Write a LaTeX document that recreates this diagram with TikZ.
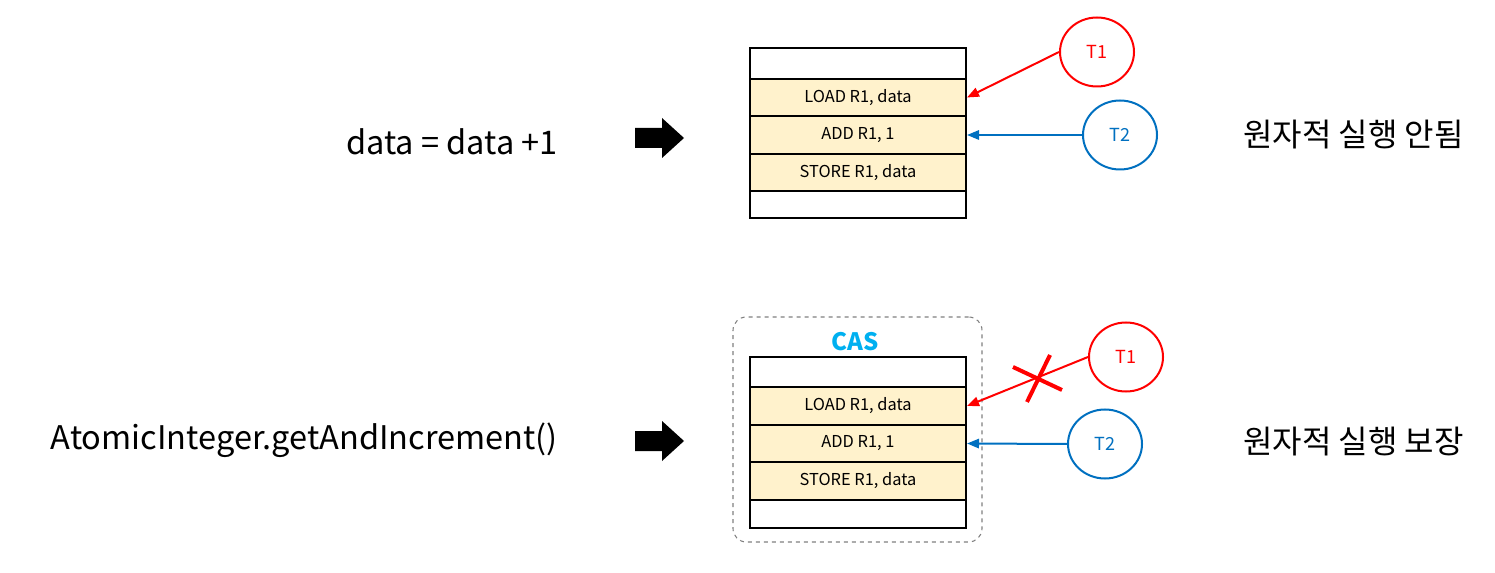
\documentclass[tikz,border=0pt]{standalone}
\usepackage{fontspec}
\setmainfont{Noto Sans CJK KR}
\usetikzlibrary{arrows.meta,shapes.geometric}
\definecolor{rowfill}{RGB}{255,242,204}
\definecolor{tred}{RGB}{255,0,0}
\definecolor{tblue}{RGB}{0,112,192}
\definecolor{casblue}{RGB}{0,176,240}
\begin{document}
\begin{tikzpicture}[x=0.75pt,y=-0.75pt,
  cell/.style={draw=black,line width=1.5pt,inner sep=0pt,minimum width=216*0.75pt,font=\fontsize{12.3}{14}\selectfont},
  instr/.style={cell,fill=rowfill},
  thread/.style={ellipse,draw,line width=1.5pt,minimum width=74*0.75pt,minimum height=69*0.75pt,inner sep=0pt,fill=white,font=\fontsize{13.5}{16}\selectfont},
  redthread/.style={thread,draw=tred,text=tred},
  bluethread/.style={thread,draw=tblue,text=tblue},
  redarrow/.style={draw=tred,line width=1.5pt,-{Triangle[length=9pt,width=7pt]}},
  bluearrow/.style={draw=tblue,line width=1.5pt,-{Triangle[length=9pt,width=7pt]}},
  maintext/.style={font=\fontsize{24.4}{28}\selectfont,inner sep=0pt},
  kortext/.style={font=\fontsize{24}{28}\selectfont,inner sep=0pt}
]
\useasboundingbox (0,0) rectangle (1495,573);

% ---------- top ----------
\node[maintext,anchor=east] (expr1) at (558,142) {data = data +1};
\fill[black] (635,128) -- (662,128) -- (662,118) -- (684,138) -- (662,158) -- (662,148) -- (635,148) -- cycle;
\node[cell,minimum height=31*0.75pt] (b1) at (858,63.5) {};
\node[instr,minimum height=37*0.75pt] (load1) at (858,97.5) {LOAD R1, data};
\node[instr,minimum height=38*0.75pt] (add1) at (858,135) {ADD R1, 1};
\node[instr,minimum height=37*0.75pt] (store1) at (858,172.5) {STORE R1, data};
\node[cell,minimum height=27*0.75pt] (e1) at (858,204.5) {};
\node[redthread] (t1a) at (1097,52) {T1};
\node[bluethread] (t2a) at (1120,135) {T2};
\draw[redarrow] (t1a.west) -- (load1.east);
\draw[bluearrow] (t2a.west) -- (add1.east);
\node[kortext,anchor=west] (res1) at (1243,135) {원자적 실행 안됨};

% ---------- bottom ----------
\node[draw=gray,dashed,line width=0.8pt,rounded corners=10pt,minimum width=249*0.75pt,minimum height=225*0.75pt] (casbox) at (857.5,429.5) {};
\node[text=casblue,font=\bfseries\fontsize{18}{20}\selectfont,inner sep=0pt] (cas) at (855,342) {CAS};
\node[maintext,anchor=east] (expr2) at (558,440) {AtomicInteger.getAndIncrement()};
\fill[black] (635,431) -- (662,431) -- (662,421) -- (684,441) -- (662,461) -- (662,451) -- (635,451) -- cycle;
\node[cell,minimum height=30*0.75pt] (b2) at (858,372) {};
\node[instr,minimum height=38*0.75pt] (load2) at (858,406) {LOAD R1, data};
\node[instr,minimum height=37*0.75pt] (add2) at (858,443.5) {ADD R1, 1};
\node[instr,minimum height=38*0.75pt] (store2) at (858,481) {STORE R1, data};
\node[cell,minimum height=28*0.75pt] (e2) at (858,514) {};
\node[redthread] (t1b) at (1126,357) {T1};
\node[bluethread] (t2b) at (1105,444) {T2};
\draw[redarrow] (t1b.west) -- (load2.east);
\draw[bluearrow] (t2b.west) -- (add2.east);
\draw[tred,line width=3pt] (1013,367) -- (1062,390);
\draw[tred,line width=3pt] (1050,355) -- (1027,402);
\node[kortext,anchor=west] (res2) at (1243,442) {원자적 실행 보장};
\end{tikzpicture}
\end{document}
